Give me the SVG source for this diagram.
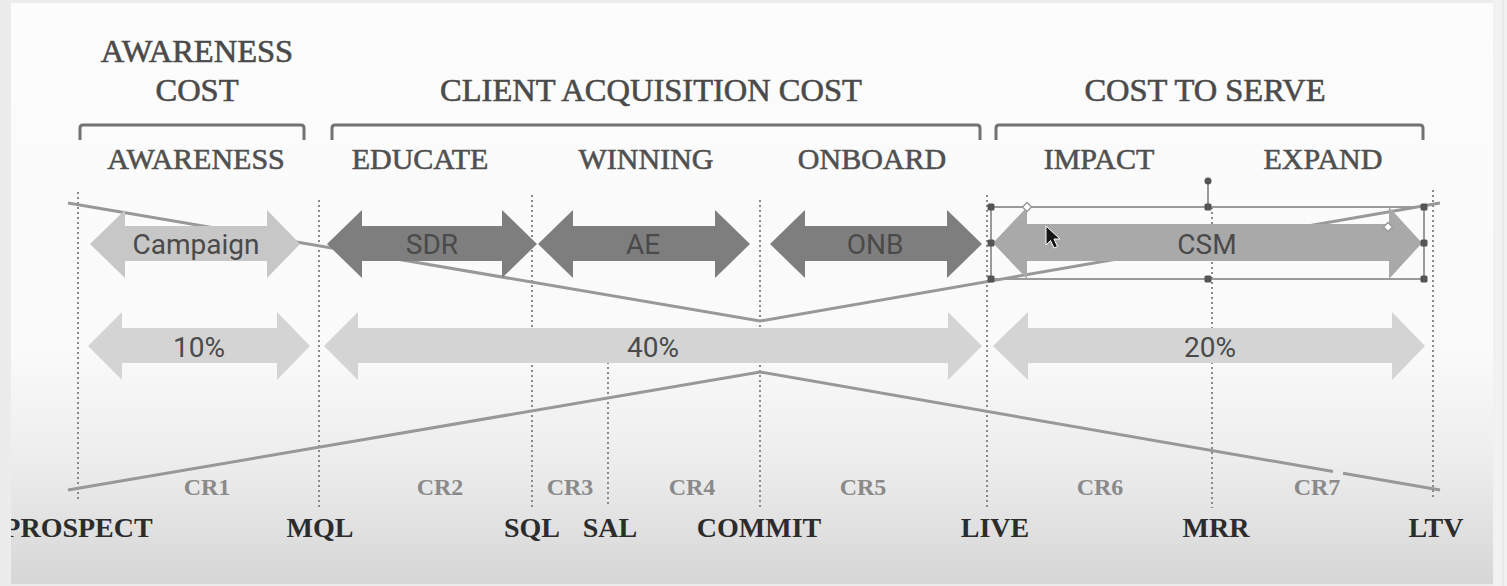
<svg xmlns="http://www.w3.org/2000/svg" width="1507" height="586" viewBox="0 0 1507 586">
  <defs>
    <linearGradient id="panelFill" x1="0" y1="0" x2="0" y2="1">
      <stop offset="0" stop-color="#fcfcfc"/>
      <stop offset="0.6" stop-color="#fafafa"/>
      <stop offset="0.8" stop-color="#ececec"/>
      <stop offset="1" stop-color="#d6d6d6"/>
    </linearGradient>
    <style>
      .title { font-family: "Liberation Serif", "Times New Roman", serif; font-size: 32.5px; fill: #4a4a4a; stroke: #4a4a4a; stroke-width: 0.6px; text-anchor: middle; }
      .phase { font-family: "Liberation Serif", "Times New Roman", serif; font-size: 30px; fill: #505050; stroke: #505050; stroke-width: 0.6px; text-anchor: middle; }
      .stage { font-family: "Liberation Serif", "Times New Roman", serif; font-size: 28px; font-weight: bold; fill: #2c2c2c; text-anchor: middle; }
      .cr { font-family: "Liberation Serif", "Times New Roman", serif; font-size: 24px; font-weight: bold; fill: #8a8a8a; text-anchor: middle; }
      .lbl { font-family: Roboto, "Liberation Sans", sans-serif; font-size: 28px; fill: #4a4a4a; text-anchor: middle; }
      .bracket { fill: none; stroke: #727272; stroke-width: 3; }
      .guide { stroke: #8a8a8a; stroke-width: 2; stroke-dasharray: 2 3; }
      .trend { fill: none; stroke: #989898; stroke-width: 3; }
      .role-light { fill: #c7c7c7; }
      .role-dark { fill: #7e7e7e; }
      .role-mid { fill: #a9a9a9; }
      .share { fill: #d4d4d4; }
      .sel { fill: none; stroke: #9a9a9a; stroke-width: 2; }
      .handle { fill: #555555; }
      .adj { fill: #ffffff; stroke: #9a9a9a; stroke-width: 1.5; }
    </style>
  </defs>

  <!-- page and slide panel -->
  <rect x="0" y="0" width="1507" height="586" fill="#ececec"/>
  <rect x="11" y="3" width="1482" height="581" fill="url(#panelFill)"/>
  <rect x="1493" y="0" width="14" height="586" fill="#f1f1f1"/>
  <line x1="1503" y1="0" x2="1503" y2="586" stroke="#e0e0e0" stroke-width="1"/>

  <!-- cost headings -->
  <g id="awareness-cost">
    <text class="title" x="197" y="62">AWARENESS</text>
    <text class="title" x="197" y="101">COST</text>
    <path class="bracket" d="M80,140 V128 Q80,125 83,125 H301 Q304,125 304,128 V140"/>
  </g>
  <g id="client-acquisition-cost">
    <text class="title" x="651" y="101">CLIENT ACQUISITION COST</text>
    <path class="bracket" d="M332,140 V128 Q332,125 335,125 H977 Q980,125 980,128 V140"/>
  </g>
  <g id="cost-to-serve">
    <text class="title" x="1205" y="101">COST TO SERVE</text>
    <path class="bracket" d="M996,140 V128 Q996,125 999,125 H1420 Q1423,125 1423,128 V140"/>
  </g>

  <!-- phase names -->
  <g id="phases">
    <text class="phase" x="196" y="169">AWARENESS</text>
    <text class="phase" x="420" y="169">EDUCATE</text>
    <text class="phase" x="646" y="169">WINNING</text>
    <text class="phase" x="872" y="169">ONBOARD</text>
    <text class="phase" x="1099" y="169">IMPACT</text>
    <text class="phase" x="1323" y="169">EXPAND</text>
  </g>

  <!-- dotted stage guides -->
  <g id="guides">
    <line class="guide" x1="78" y1="192" x2="78" y2="499"/>
    <line class="guide" x1="319" y1="200" x2="319" y2="507"/>
    <line class="guide" x1="532" y1="195" x2="532" y2="510"/>
    <line class="guide" x1="608" y1="347" x2="608" y2="506"/>
    <line class="guide" x1="760" y1="200" x2="760" y2="508"/>
    <line class="guide" x1="987" y1="195" x2="987" y2="508"/>
    <line class="guide" x1="1212" y1="207" x2="1212" y2="508"/>
    <line class="guide" x1="1433" y1="190" x2="1433" y2="500"/>
  </g>

  <!-- cost / volume trend lines -->
  <g id="connectors">
    <polyline class="trend" points="68,203 760,321 1440,203"/>
    <polyline class="trend" points="68,490 760,372 1333,471.5"/>
    <line class="trend" x1="1343" y1="473.2" x2="1440" y2="490"/>
  </g>

  <!-- role arrows -->
  <g id="campaign">
    <polygon class="role-light" points="90,244 125,210 125,226 267,226 267,210 300,244 267,278 267,261 125,261 125,278"/>
    <text class="lbl" x="196" y="254">Campaign</text>
  </g>
  <g id="sdr">
    <polygon class="role-dark" points="327,244 362,210 362,226 502,226 502,210 537,244 502,278 502,261 362,261 362,278"/>
    <text class="lbl" x="432" y="254">SDR</text>
  </g>
  <g id="ae">
    <polygon class="role-dark" points="538,244 573,210 573,226 715,226 715,210 750,244 715,278 715,261 573,261 573,278"/>
    <text class="lbl" x="643" y="254">AE</text>
  </g>
  <g id="onb">
    <polygon class="role-dark" points="770,244 805,210 805,226 947,226 947,210 982,244 947,278 947,261 805,261 805,278"/>
    <text class="lbl" x="875" y="254">ONB</text>
  </g>
  <g id="csm">
    <polygon class="role-mid" points="993,243 1027,207 1027,224 1389,224 1389,207 1422,243 1389,279 1389,261 1027,261 1027,279"/>
    <text class="lbl" x="1207" y="254">CSM</text>
  </g>

  <!-- cost share arrows -->
  <g id="share-10">
    <polygon class="share" points="88,346 122,312 122,328 277,328 277,312 310,346 277,380 277,363 122,363 122,380"/>
    <text class="lbl" x="199" y="357">10%</text>
  </g>
  <g id="share-40">
    <polygon class="share" points="324,346 358,312 358,328 948,328 948,312 982,346 948,380 948,363 358,363 358,380"/>
    <text class="lbl" x="653" y="357">40%</text>
  </g>
  <g id="share-20">
    <polygon class="share" points="993,346 1028,312 1028,328 1392,328 1392,312 1425,346 1392,380 1392,363 1028,363 1028,380"/>
    <text class="lbl" x="1210" y="357">20%</text>
  </g>

  <!-- selection frame around the CSM arrow -->
  <g id="csm-selection">
    <line x1="1208" y1="181" x2="1208" y2="207" stroke="#9a9a9a" stroke-width="2"/>
    <circle class="handle" cx="1208" cy="181" r="3.5"/>
    <rect class="sel" x="991" y="207" width="433" height="72"/>
    <rect class="handle" x="987.5" y="203.5" width="7" height="7" rx="1.5"/>
    <rect class="handle" x="1204.5" y="203.5" width="7" height="7" rx="1.5"/>
    <rect class="handle" x="1420.5" y="203.5" width="7" height="7" rx="1.5"/>
    <rect class="handle" x="987.5" y="239.5" width="7" height="7" rx="1.5"/>
    <rect class="handle" x="1420.5" y="239.5" width="7" height="7" rx="1.5"/>
    <rect class="handle" x="987.5" y="275.5" width="7" height="7" rx="1.5"/>
    <rect class="handle" x="1204.5" y="275.5" width="7" height="7" rx="1.5"/>
    <rect class="handle" x="1420.5" y="275.5" width="7" height="7" rx="1.5"/>
    <polygon class="adj" points="1027,202.5 1031.5,207 1027,211.5 1022.5,207"/>
    <polygon class="adj" points="1388,222.5 1392.5,227 1388,231.5 1383.5,227"/>
    <!-- mouse pointer -->
    <polygon points="1046,226 1046,245 1050.5,240.5 1054,248 1057.5,246.5 1054,239 1060,239" fill="#151515" stroke="#ffffff" stroke-width="1"/>
  </g>

  <!-- conversion rates -->
  <g id="conversion-rates">
    <text class="cr" x="207" y="495">CR1</text>
    <text class="cr" x="440" y="495">CR2</text>
    <text class="cr" x="570" y="495">CR3</text>
    <text class="cr" x="692" y="495">CR4</text>
    <text class="cr" x="863" y="495">CR5</text>
    <text class="cr" x="1100" y="495">CR6</text>
    <text class="cr" x="1317" y="495">CR7</text>
  </g>

  <!-- funnel stages -->
  <g id="stages">
    <text class="stage" x="78" y="537">PROSPECT</text>
    <text class="stage" x="320" y="537">MQL</text>
    <text class="stage" x="532" y="537">SQL</text>
    <text class="stage" x="610" y="537">SAL</text>
    <text class="stage" x="759" y="537">COMMIT</text>
    <text class="stage" x="995" y="537">LIVE</text>
    <text class="stage" x="1216" y="537">MRR</text>
    <text class="stage" x="1436" y="537">LTV</text>
  </g>

  <!-- left page margin over the slide edge -->
  <rect x="0" y="0" width="11" height="586" fill="#ececec"/>
</svg>
